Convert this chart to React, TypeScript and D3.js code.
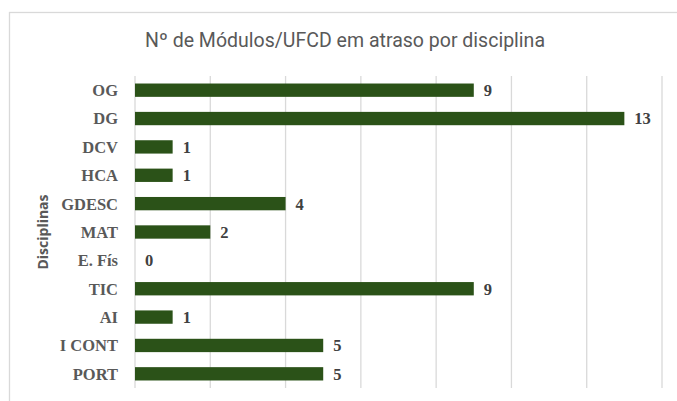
import React from 'react';
import * as d3 from 'd3';

const disciplinas = ['OG', 'DG', 'DCV', 'HCA', 'GDESC', 'MAT', 'E. Fís', 'TIC', 'AI', 'I CONT', 'PORT'];
const modulos = [9, 13, 1, 1, 4, 2, 0, 9, 1, 5, 5];
const xTicks = [0, 2, 4, 6, 8, 10, 12, 14];

const width = 677;
const height = 401;
const plot = { left: 135, right: 662, top: 76, bottom: 388 };

function App() {
  const xScale = d3.scaleLinear().domain([0, 14]).range([plot.left, plot.right]);
  const yScale = d3.scaleBand()
    .domain(disciplinas)
    .range([plot.top, plot.bottom])
    .paddingInner(0.53)
    .paddingOuter(0.265);

  const labelFont = '"Liberation Serif", "DejaVu Serif", serif';

  return (
    <svg width={width} height={height} style={{ position: 'absolute', left: 0, top: 0, background: '#fff' }}>
      <rect x={9.5} y={12.5} width={720} height={420} fill="#fff" stroke="#d9d9d9" strokeWidth={1.3} />

      <text x={345} y={47} textAnchor="middle" fontFamily="Roboto, sans-serif" fontSize={20}
        fill="#595959" textLength={400} lengthAdjust="spacingAndGlyphs">
        Nº de Módulos/UFCD em atraso por disciplina
      </text>

      {/* grid lines */}
      {xTicks.map(t => (
        <line key={t} x1={xScale(t)} x2={xScale(t)} y1={plot.top} y2={plot.bottom}
          stroke="#d9d9d9" strokeWidth={1.3} />
      ))}

      {/* bars */}
      {disciplinas.map((d, i) => (
        <rect key={d} x={xScale(0)} y={yScale(d)} width={xScale(modulos[i]) - xScale(0)}
          height={yScale.bandwidth()} fill="#2b5218" />
      ))}

      {/* value labels */}
      {disciplinas.map((d, i) => (
        <text key={d} x={xScale(modulos[i]) + 10} y={(yScale(d) as number) + yScale.bandwidth() / 2}
          dy="0.36em" fontFamily={labelFont} fontWeight="bold" fontSize={16.5} fill="#404040">
          {modulos[i]}
        </text>
      ))}

      {/* category labels */}
      {disciplinas.map(d => (
        <text key={d} x={118} y={(yScale(d) as number) + yScale.bandwidth() / 2}
          dy="0.36em" textAnchor="end" fontFamily={labelFont} fontWeight="bold" fontSize={16.5} fill="#595959">
          {d}
        </text>
      ))}

      <text transform={`translate(48, ${(plot.top + plot.bottom) / 2}) rotate(-90)`}
        textAnchor="middle" fontFamily='"Open Sans", sans-serif' fontWeight="bold" fontSize={14} fill="#595959">
        Disciplinas
      </text>
    </svg>
  );
}

export default App;
